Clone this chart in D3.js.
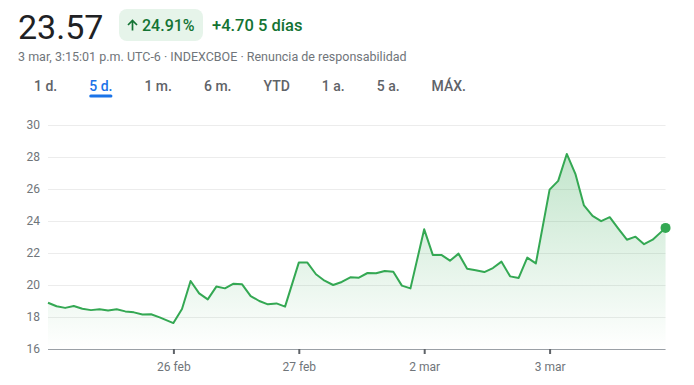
<!DOCTYPE html>
<html>
<head>
<meta charset="utf-8">
<script src="https://cdn.jsdelivr.net/npm/d3@7"></script>
<style>
  body { margin: 0; background: #fff; }
  svg { font-family: Roboto, Arial, sans-serif; display: block; }
</style>
</head>
<body>
<div id="chart"></div>
<script>
// VIX 5-day series, one value per 30 min slot
const days = ["25 feb", "26 feb", "27 feb", "2 mar", "3 mar"];
const slots = ["08:30", "09:00", "09:30", "10:00", "10:30", "11:00", "11:30",
               "12:00", "12:30", "13:00", "13:30", "14:00", "14:30", "15:00"];
const lastSlot = "15:15";

const feb25 = [18.89, 18.67, 18.57, 18.69, 18.52, 18.43, 18.49, 18.41, 18.48, 18.35, 18.29, 18.16, 18.17, 17.98];
const feb26 = [17.62, 18.50, 20.25, 19.48, 19.10, 19.90, 19.79, 20.08, 20.04, 19.31, 19.00, 18.79, 18.85, 18.65];
const feb27 = [21.40, 21.40, 20.67, 20.27, 20.00, 20.19, 20.48, 20.46, 20.75, 20.73, 20.88, 20.83, 19.96, 19.79];
const mar2  = [23.48, 21.88, 21.88, 21.52, 21.96, 21.02, 20.92, 20.81, 21.06, 21.46, 20.54, 20.44, 21.71, 21.35];
const mar3  = [25.96, 26.51, 28.19, 26.95, 24.97, 24.32, 23.99, 24.24, 23.52, 22.83, 23.02, 22.55, 22.83, 23.57];

const yTicks = [16, 18, 20, 22, 24, 26, 28, 30];
const tabs = ["1 d.", "5 d.", "1 m.", "6 m.", "YTD", "1 a.", "5 a.", "MÁX."];
const activeTab = "5 d.";

const width = 694, height = 385;
const session = 438; // minutes of axis space given to each trading day
const green = "#34a853";

const toMin = t => { const p = t.split(":"); return +p[0] * 60 + +p[1]; };
const series = [feb25, feb26, feb27, mar2, mar3];
const points = [];
series.forEach((vals, d) => {
  const times = d === 4 ? slots.slice(0, vals.length - 1).concat(lastSlot) : slots;
  vals.forEach((v, i) => points.push({ x: d * session + toMin(times[i]) - toMin(slots[0]), v: v }));
});

const svg = d3.select("#chart").append("svg")
  .attr("width", width).attr("height", height);

// header
svg.append("text").attr("x", 18).attr("y", 39)
  .attr("font-size", 34).attr("fill", "#202124").text("23.57");

svg.append("rect").attr("x", 119).attr("y", 9).attr("width", 84).attr("height", 32)
  .attr("rx", 8).attr("fill", "#e6f4ea");
svg.append("path").attr("d", "M132.5,30.5V20.5M128,25L132.5,20.5L137,25")
  .attr("fill", "none").attr("stroke", "#137333").attr("stroke-width", 1.7);
svg.append("text").attr("x", 142).attr("y", 30.5).attr("font-size", 16)
  .attr("font-weight", 500).attr("fill", "#137333").text("24.91%");
svg.append("text").attr("x", 212).attr("y", 30.5).attr("font-size", 16.5)
  .attr("font-weight", 500).attr("fill", "#137333").text("+4.70 5 días");

svg.append("text").attr("x", 18).attr("y", 61).attr("font-size", 12.5)
  .attr("fill", "#70757a")
  .text("3 mar, 3:15:01 p.m. UTC-6 · INDEXCBOE · Renuncia de responsabilidad");

// range tabs
let tx = 34;
tabs.forEach(t => {
  const el = svg.append("text").attr("x", tx).attr("y", 91).attr("font-size", 14)
    .attr("font-weight", 500).attr("fill", t === activeTab ? "#1a73e8" : "#5f6368").text(t);
  const w = el.node().getComputedTextLength();
  if (t === activeTab) {
    svg.append("rect").attr("x", tx).attr("y", 94.5).attr("width", w).attr("height", 3)
      .attr("rx", 1.5).attr("fill", "#1a73e8");
  }
  tx += w + 32;
});

// chart
const x = d3.scaleLinear().domain([0, days.length * session]).range([48, 675]);
const y = d3.scaleLinear().domain([16, 30]).range([349, 125]);
const right = x(points[points.length - 1].x);

const yAxis = svg.append("g").attr("transform", "translate(48,0)")
  .call(d3.axisLeft(y).tickValues(yTicks).tickSize(-(right - 48)).tickPadding(8));
yAxis.select(".domain").remove();
yAxis.selectAll("line").attr("stroke", d => d === 16 ? "#9aa0a6" : "#ececec");
yAxis.selectAll("text").attr("font-size", 12).attr("fill", "#70757a")
  .attr("font-family", "Roboto, Arial, sans-serif");

const grad = svg.append("defs").append("linearGradient").attr("id", "fillGrad")
  .attr("gradientUnits", "userSpaceOnUse")
  .attr("x1", 0).attr("x2", 0).attr("y1", y(d3.max(points, p => p.v))).attr("y2", y(16));
grad.append("stop").attr("offset", 0).attr("stop-color", green).attr("stop-opacity", 0.3);
grad.append("stop").attr("offset", 1).attr("stop-color", green).attr("stop-opacity", 0.0);

svg.append("path").datum(points)
  .attr("fill", "url(#fillGrad)")
  .attr("d", d3.area().x(p => x(p.x)).y0(y(16)).y1(p => y(p.v)));

svg.append("path").datum(points)
  .attr("fill", "none").attr("stroke", green).attr("stroke-width", 2)
  .attr("stroke-linejoin", "round")
  .attr("d", d3.line().x(p => x(p.x)).y(p => y(p.v)));

const last = points[points.length - 1];
svg.append("circle").attr("cx", x(last.x)).attr("cy", y(last.v)).attr("r", 5).attr("fill", green);

const xAxis = svg.append("g").attr("transform", "translate(0," + y(16) + ")")
  .call(d3.axisBottom(x).tickValues(d3.range(1, days.length).map(d => d * session))
    .tickFormat((d, i) => days[i + 1]).tickSize(5).tickPadding(8));
xAxis.select(".domain").remove();
xAxis.selectAll("line").attr("stroke", "#5f6368").attr("stroke-width", 2);
xAxis.selectAll("text").attr("font-size", 12).attr("fill", "#70757a")
  .attr("font-family", "Roboto, Arial, sans-serif");
</script>
</body>
</html>
